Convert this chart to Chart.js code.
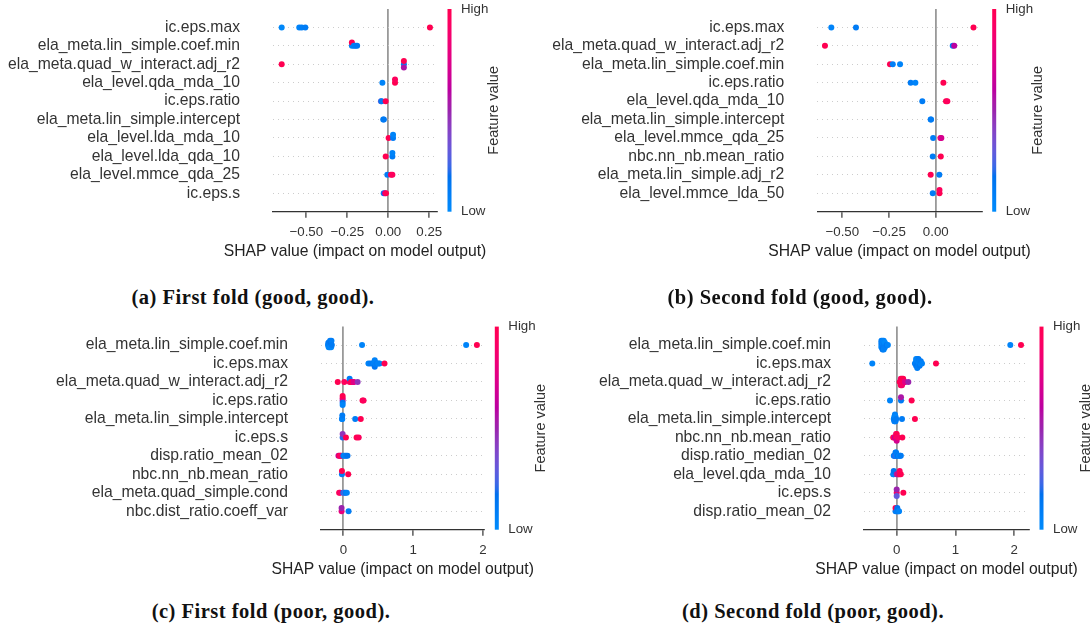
<!DOCTYPE html>
<html>
<head>
<meta charset="utf-8">
<title>SHAP summary plots</title>
<script src="https://cdn.jsdelivr.net/npm/chart.js@4.4.1/dist/chart.umd.min.js"></script>
<style>
    body { margin: 0; background: #fff; }
    #page { position: relative; width: 1091px; height: 630px; overflow: hidden; background: #fff; }
    canvas { position: absolute; }
    .caption {
        position: absolute; width: 400px; text-align: center; white-space: nowrap;
        font: bold 20.5px "Liberation Serif", "Times New Roman", serif;
        letter-spacing: 0.5px; line-height: 24px; color: #111;
    }
</style>
</head>
<body>
<div id="page">
    <canvas id="chartA"></canvas>
    <canvas id="chartB"></canvas>
    <canvas id="chartC"></canvas>
    <canvas id="chartD"></canvas>
    <div class="caption" style="left:53px;top:285px">(a) First fold (good, good).</div>
    <div class="caption" style="left:600px;top:285px">(b) Second fold (good, good).</div>
    <div class="caption" style="left:71px;top:599px">(c) First fold (poor, good).</div>
    <div class="caption" style="left:613px;top:599px">(d) Second fold (poor, good).</div>
</div>
<script>
/*-------------------------------------------------------------------------------
 DATA (rows top to bottom, shap value + feature value 0..1 per sample)
 -------------------------------------------------------------------------------*/

let featuresA = ['ic.eps.max', 'ela_meta.lin_simple.coef.min', 'ela_meta.quad_w_interact.adj_r2',
    'ela_level.qda_mda_10', 'ic.eps.ratio', 'ela_meta.lin_simple.intercept', 'ela_level.lda_mda_10',
    'ela_level.lda_qda_10', 'ela_level.mmce_qda_25', 'ic.eps.s'];
let shapA = [
    [-0.65, -0.543, -0.528, -0.506, 0.254],
    [-0.222, -0.222, -0.21, -0.2, -0.19],
    [-0.65, 0.095, 0.095, 0.095],
    [-0.036, 0.041, 0.041],
    [-0.045, -0.041, -0.016],
    [-0.031, -0.027],
    [0.002, 0.029, 0.029],
    [-0.016, 0.025, 0.025],
    [-0.006, 0.016, 0.025],
    [-0.028, -0.02, -0.014]
];
let valueA = [
    [0.02, 0.05, 0.08, 0.1, 1.0],
    [0.05, 1.0, 0.08, 0.1, 0.12],
    [1.0, 0.08, 1.0, 0.55],
    [0.05, 1.0, 0.95],
    [0.3, 0.1, 1.0],
    [0.08, 0.12],
    [1.0, 0.1, 0.05],
    [1.0, 0.1, 0.05],
    [0.1, 1.0, 0.95],
    [0.1, 0.6, 1.0]
];
let ticksA = [-0.5, -0.25, 0, 0.25];
let tickLabelsA = ['\u22120.50', '\u22120.25', '0.00', '0.25'];

let featuresB = ['ic.eps.max', 'ela_meta.quad_w_interact.adj_r2', 'ela_meta.lin_simple.coef.min',
    'ic.eps.ratio', 'ela_level.qda_mda_10', 'ela_meta.lin_simple.intercept', 'ela_level.mmce_qda_25',
    'nbc.nn_nb.mean_ratio', 'ela_meta.lin_simple.adj_r2', 'ela_level.mmce_lda_50'];
let shapB = [
    [-0.559, -0.427, 0.202],
    [-0.593, 0.091, 0.099],
    [-0.245, -0.23, -0.191],
    [-0.134, -0.109, 0.041],
    [-0.072, 0.055, 0.062],
    [-0.027, -0.025],
    [-0.014, 0.025, 0.03],
    [-0.016, 0.027],
    [-0.027, 0.019],
    [-0.016, 0.02, 0.02]
];
let valueB = [
    [0.05, 0.1, 1.0],
    [1.0, 0.1, 0.6],
    [1.0, 0.08, 0.05],
    [0.1, 0.05, 1.0],
    [0.1, 1.0, 0.95],
    [0.08, 0.1],
    [0.1, 0.9, 0.7],
    [0.1, 1.0],
    [1.0, 0.1],
    [0.1, 1.0, 0.95]
];
let ticksB = [-0.5, -0.25, 0];
let tickLabelsB = ['\u22120.50', '\u22120.25', '0.00'];

let featuresC = ['ela_meta.lin_simple.coef.min', 'ic.eps.max', 'ela_meta.quad_w_interact.adj_r2',
    'ic.eps.ratio', 'ela_meta.lin_simple.intercept', 'ic.eps.s', 'disp.ratio_mean_02',
    'nbc.nn_nb.mean_ratio', 'ela_meta.quad_simple.cond', 'nbc.dist_ratio.coeff_var'];
let shapC = [
    [-0.22, -0.215, -0.21, -0.205, -0.2, -0.195, -0.19, -0.185, -0.18, -0.175, -0.17, -0.165, 0.268, 1.76, 1.914],
    [0.36, 0.39, 0.42, 0.43, 0.44, 0.45, 0.45, 0.45, 0.46, 0.47, 0.48, 0.5, 0.52, 0.59],
    [-0.08, 0.014, 0.09, 0.09, 0.11, 0.13, 0.14, 0.15, 0.205],
    [-0.01, -0.01, -0.01, -0.01, -0.01, 0.275, 0.29],
    [-0.02, -0.015, -0.015, 0.17, 0.25],
    [-0.01, -0.01, 0.037, 0.19, 0.22],
    [-0.07, -0.055, -0.04, -0.03, 0.0, 0.02, 0.04, 0.06],
    [-0.02, -0.02, 0.07],
    [-0.06, -0.045, 0.0, 0.015, 0.03, 0.05],
    [-0.025, -0.025, 0.075]
];
let valueC = [
    [0.05, 0.1, 0.02, 0.08, 0.12, 0.04, 0.1, 0.06, 0.15, 0.03, 0.09, 0.11, 0.05, 0.05, 1.0],
    [0.05, 0.1, 0.08, 0.12, 0.04, 0.1, 0.06, 0.15, 0.03, 0.09, 0.11, 0.05, 0.07, 1.0],
    [1.0, 0.95, 0.9, 0.1, 1.0, 0.95, 0.9, 0.75, 0.45],
    [0.5, 0.8, 0.15, 1.0, 0.05, 1.0, 0.95],
    [0.1, 0.05, 0.1, 0.1, 1.0],
    [0.2, 0.45, 1.0, 1.0, 0.95],
    [0.6, 1.0, 0.95, 0.9, 0.1, 0.05, 0.1, 0.15],
    [0.1, 1.0, 1.0],
    [1.0, 0.9, 0.1, 0.3, 0.1, 0.05],
    [0.8, 0.5, 0.1]
];
let ticksC = [0, 1, 2];
let tickLabelsC = ['0', '1', '2'];

let featuresD = ['ela_meta.lin_simple.coef.min', 'ic.eps.max', 'ela_meta.quad_w_interact.adj_r2',
    'ic.eps.ratio', 'ela_meta.lin_simple.intercept', 'nbc.nn_nb.mean_ratio', 'disp.ratio_median_02',
    'ela_level.qda_mda_10', 'ic.eps.s', 'disp.ratio_mean_02'];
let shapD = [
    [-0.26, -0.26, -0.26, -0.26, -0.24, -0.24, -0.24, -0.24, -0.24, -0.22, -0.22, -0.22, -0.22, -0.22,
        -0.2, -0.2, -0.2, -0.17, -0.15, 1.932, 2.114],
    [-0.415, 0.31, 0.33, 0.33, 0.33, 0.33, 0.35, 0.35, 0.35, 0.35, 0.35, 0.37, 0.37, 0.37, 0.37,
        0.39, 0.39, 0.39, 0.41, 0.41, 0.43, 0.668],
    [0.05, 0.07, 0.07, 0.07, 0.09, 0.09, 0.09, 0.11, 0.11, 0.13, 0.14, 0.198],
    [-0.114, 0.073, 0.073, 0.254],
    [-0.05, -0.04, -0.04, -0.04, -0.03, -0.03, -0.03, -0.03, -0.02, -0.02, -0.02, -0.01, 0.09, 0.31],
    [-0.06, -0.04, -0.03, -0.01, -0.01, 0.0, 0.0, 0.0, 0.02, 0.096],
    [-0.05, -0.04, -0.03, -0.02, -0.02, -0.01, -0.01, 0.0, 0.02, 0.04, 0.06, 0.07],
    [-0.06, -0.05, -0.05, 0.0, 0.02, 0.03, 0.05, 0.05, 0.07],
    [0.0, 0.0, 0.0, 0.113],
    [-0.02, -0.02, 0.0, 0.01, 0.01, 0.03, 0.04]
];
let valueD = [
    [0.05, 0.1, 0.02, 0.08, 0.12, 0.04, 0.1, 0.06, 0.15, 0.03, 0.09, 0.11, 0.05, 0.07, 0.1, 0.02, 0.08,
        0.12, 0.05, 0.05, 1.0],
    [0.05, 0.1, 0.02, 0.08, 0.12, 0.04, 0.1, 0.06, 0.15, 0.03, 0.09, 0.11, 0.05, 0.07, 0.1, 0.02, 0.08,
        0.12, 0.05, 0.1, 0.06, 1.0],
    [1.0, 0.95, 0.9, 1.0, 0.92, 1.0, 0.88, 0.95, 1.0, 0.9, 0.75, 0.5],
    [0.05, 0.1, 0.55, 1.0],
    [0.05, 0.1, 0.02, 0.08, 0.12, 0.04, 0.1, 0.06, 0.15, 0.03, 0.09, 0.11, 0.1, 1.0],
    [1.0, 0.9, 0.6, 1.0, 0.85, 0.95, 1.0, 0.7, 0.9, 1.0],
    [0.05, 0.1, 0.2, 0.08, 0.12, 0.25, 0.1, 0.06, 0.15, 0.03, 0.09, 0.11],
    [0.1, 0.05, 0.15, 0.5, 0.9, 0.55, 1.0, 0.95, 1.0],
    [0.9, 0.5, 0.3, 1.0],
    [0.1, 1.0, 0.05, 0.1, 0.15, 0.1, 0.05]
];
let ticksD = [0, 1, 2];
let tickLabelsD = ['0', '1', '2'];

let xTitle = 'SHAP value (impact on model output)';
let FONT = '"Liberation Sans", Arial, sans-serif';


/*-------------------------------------------------------------------------------
 shap red_blue colour map (interpolated in LCh, converted to sRGB)
 -------------------------------------------------------------------------------*/

function redBlue(t) {
    let l = t < 0.5 ? 54 - 14 * t / 0.5 : 40 + 14 * (t - 0.5) / 0.5;
    let c = 70 + 20 * t;
    let h = 4.6588 + t * (0.35470565 + 2 * Math.PI - 4.6588);
    let a = c * Math.cos(h), b = c * Math.sin(h);

    let fy = (l + 16) / 116, fx = fy + a / 500, fz = fy - b / 200;
    let inv = function (f) { return f * f * f > 0.008856 ? f * f * f : (f - 16 / 116) / 7.787; };
    let X = 0.95047 * inv(fx), Y = inv(fy), Z = 1.08883 * inv(fz);

    let rgb = [
        3.2404542 * X - 1.5371385 * Y - 0.4985314 * Z,
        -0.9692660 * X + 1.8760108 * Y + 0.0415560 * Z,
        0.0556434 * X - 0.2040259 * Y + 1.0572252 * Z
    ].map(function (v) {
        v = v > 0.0031308 ? 1.055 * Math.pow(v, 1 / 2.4) - 0.055 : 12.92 * v;
        return Math.round(255 * Math.min(1, Math.max(0, v)));
    });
    return 'rgb(' + rgb.join(',') + ')';
}


/*-------------------------------------------------------------------------------
 beeswarm offsets like shap: points in the same bin are stacked up / down
 -------------------------------------------------------------------------------*/

function swarm(vals) {
    let lo = Math.min.apply(null, vals), hi = Math.max.apply(null, vals);
    let quant = vals.map(function (v) { return Math.round(100 * (v - lo) / (hi - lo + 1e-8)); });
    let order = vals.map(function (v, i) { return i; });
    order.sort(function (p, q) { return quant[p] - quant[q] || p - q; });

    let ys = vals.map(function () { return 0; });
    let layer = 0, last = -1;
    order.forEach(function (i) {
        if (quant[i] !== last) layer = 0;
        ys[i] = Math.ceil(layer / 2) * ((layer % 2) * 2 - 1);
        layer++;
        last = quant[i];
    });
    let m = Math.max.apply(null, ys.map(function (y) { return y + 1; }));
    return ys.map(function (y) { return y * 0.9 * (0.4 / m); });
}


/* Colour bar + axis title (drawn by hand so the title is not squeezed)
 -----------------------------------------------*/

let colorBar = {
    id: 'colorBar',
    afterDraw: function (chart) {
        let ctx = chart.ctx, a = chart.chartArea;
        let x = a.right + 10.5;
        let grad = ctx.createLinearGradient(0, a.bottom, 0, a.top);
        for (let i = 0; i <= 40; i++) {
            grad.addColorStop(i / 40, redBlue(i / 40));
        }
        ctx.save();
        ctx.fillStyle = grad;
        ctx.fillRect(x, a.top, 4, a.bottom - a.top);

        ctx.fillStyle = '#333';
        ctx.font = '13.3px ' + FONT;
        ctx.textAlign = 'left';
        ctx.textBaseline = 'middle';
        ctx.fillText('High', x + 13.5, a.top);
        ctx.fillText('Low', x + 13.5, a.bottom);

        ctx.fillStyle = '#222';
        ctx.font = '15.7px ' + FONT;
        ctx.textAlign = 'center';
        ctx.fillText(xTitle, (a.left + a.right) / 2, a.bottom + 40);

        ctx.fillStyle = '#333';
        ctx.translate(x + 46, (a.top + a.bottom) / 2);
        ctx.rotate(-Math.PI / 2);
        ctx.font = '14.5px ' + FONT;
        ctx.fillText('Feature value', 0, 0);
        ctx.restore();
    }
};


/*-------------------------------------------------------------------------------
 one summary plot
 -------------------------------------------------------------------------------*/

function makePanel(id, g, features, shaps, values, ticks, tickLabels) {
    let n = features.length;
    let canvas = document.getElementById(id);
    let h = Math.round(g.bottom - g.oy + 50);
    let xH = h - (g.bottom - g.oy);
    canvas.width = g.w;
    canvas.height = h;
    canvas.style.left = g.ox + 'px';
    canvas.style.top = g.oy + 'px';
    canvas.style.width = g.w + 'px';
    canvas.style.height = h + 'px';

    let points = [], colors = [];
    for (let i = 0; i < n; i++) {
        let jit = swarm(shaps[i]);
        for (let j = 0; j < shaps[i].length; j++) {
            points.push({x: shaps[i][j], y: n - 1 - i + jit[j]});
            colors.push(redBlue(values[i][j]));
        }
    }

    return new Chart(canvas.getContext('2d'), {
        type: 'scatter',
        data: {
            datasets: [{
                data: points,
                pointBackgroundColor: colors,
                pointBorderWidth: 0,
                pointRadius: 3,
                pointHoverRadius: 3
            }]
        },
        options: {
            responsive: false,
            animation: false,
            devicePixelRatio: 1,
            events: [],
            layout: {padding: {left: 0, top: g.top - g.oy, right: g.w - (g.right - g.ox), bottom: 0}},
            plugins: {legend: {display: false}, tooltip: {enabled: false}},
            scales: {
                x: {
                    type: 'linear',
                    min: g.xmin,
                    max: g.xmax,
                    afterBuildTicks: function (s) {
                        s.ticks = ticks.map(function (v) { return {value: v}; });
                    },
                    afterFit: function (s) {
                        s.height = xH;
                        s.paddingLeft = 0;
                        s.paddingRight = 0;
                    },
                    grid: {
                        color: function (c) { return c.tick && c.tick.value === 0 ? '#999999' : 'rgba(0,0,0,0)'; },
                        lineWidth: 1.8,
                        drawTicks: true,
                        tickLength: 6,
                        tickColor: '#333',
                        tickWidth: 1.2
                    },
                    border: {display: true, color: '#333', width: 1.2},
                    ticks: {
                        autoSkip: false,
                        maxRotation: 0,
                        padding: 7,
                        color: '#333',
                        font: {family: FONT, size: 13.3},
                        callback: function (v, i) { return tickLabels[i]; }
                    },
                    title: {display: false}
                },
                y: {
                    type: 'linear',
                    min: -1,
                    max: n,
                    afterBuildTicks: function (s) {
                        s.ticks = features.map(function (f, i) { return {value: i}; });
                    },
                    afterFit: function (s) {
                        s.width = g.left - g.ox;
                        s.paddingTop = 0;
                        s.paddingBottom = 0;
                    },
                    grid: {color: '#cccccc', lineWidth: 1, drawTicks: false},
                    border: {display: false, dash: [1, 4]},
                    ticks: {
                        autoSkip: false,
                        padding: 33,
                        color: '#333',
                        font: {family: FONT, size: 15.7},
                        callback: function (v) { return features[n - 1 - v]; }
                    }
                }
            }
        },
        plugins: [colorBar]
    });
}

makePanel('chartA', {ox: 0, oy: 0, w: 560, left: 273, right: 437, top: 9, bottom: 211.7, xmin: -0.703, xmax: 0.297},
    featuresA, shapA, valueA, ticksA, tickLabelsA);
makePanel('chartB', {ox: 545, oy: 0, w: 546, left: 817.3, right: 981.7, top: 9, bottom: 211.7, xmin: -0.634, xmax: 0.246},
    featuresB, shapB, valueB, ticksB, tickLabelsB);
makePanel('chartC', {ox: 0, oy: 315, w: 560, left: 321, right: 484.3, top: 326.6, bottom: 529.7, xmin: -0.32, xmax: 2.02},
    featuresC, shapC, valueC, ticksC, tickLabelsC);
makePanel('chartD', {ox: 545, oy: 315, w: 546, left: 864, right: 1029, top: 326.6, bottom: 529.7, xmin: -0.556, xmax: 2.25},
    featuresD, shapD, valueD, ticksD, tickLabelsD);
</script>
</body>
</html>
